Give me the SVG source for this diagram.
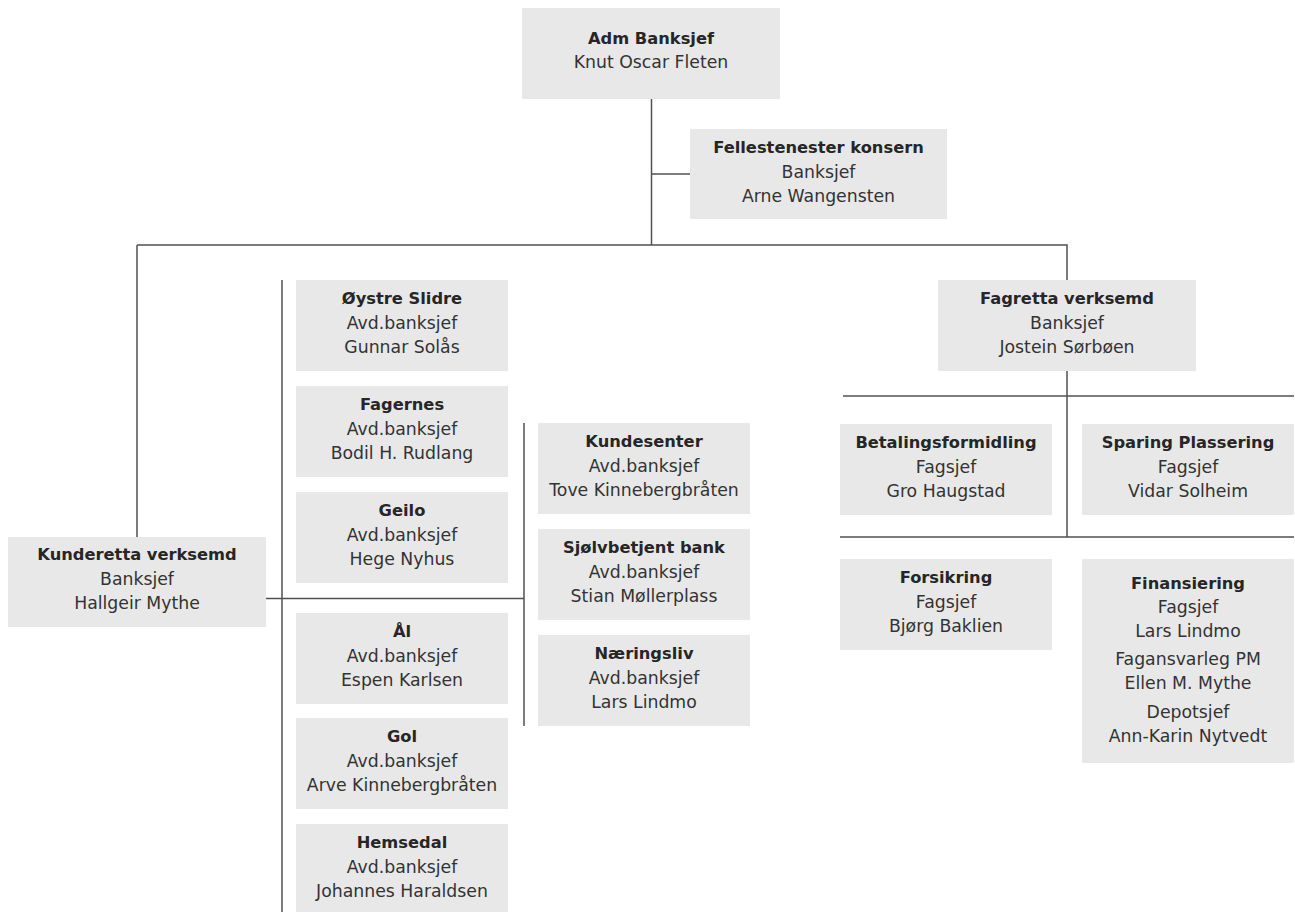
<svg xmlns="http://www.w3.org/2000/svg" width="1295" height="912" viewBox="0 0 1295 912">
<style>
.box{fill:#e8e8e8}
.t{font-family:"DejaVu Sans",sans-serif;text-anchor:middle}
.b{font-weight:bold;font-size:16.3px;fill:#262626}
.r{font-size:17.3px;fill:#333333}
.c{fill:none;stroke:#505050;stroke-width:1.5}
</style>
<rect width="1295" height="912" fill="#ffffff"/>
<g id="connectors" class="c">
<path d="M651.5 99V245"/>
<path d="M651.5 174H690"/>
<path d="M137 245H1067V280"/>
<path d="M137 245V537"/>
<path d="M1067 371V537"/>
<path d="M843 396H1294"/>
<path d="M840 537H1294"/>
<path d="M266 598.5H524"/>
<path d="M282 280V912"/>
<path d="M524 423V726"/>
</g>
<g id="adm"><rect class="box" x="522" y="8" width="258" height="91"/>
<text class="t b" x="651" y="44">Adm Banksjef</text><text class="t r" x="651" y="68">Knut Oscar Fleten</text></g>
<g id="fellestenester"><rect class="box" x="690" y="129" width="257" height="90"/>
<text class="t b" x="818.5" y="153">Fellestenester konsern</text><text class="t r" x="818.5" y="178">Banksjef</text><text class="t r" x="818.5" y="202">Arne Wangensten</text></g>
<g id="kunderetta"><rect class="box" x="8" y="537" width="258" height="90"/>
<text class="t b" x="137" y="560">Kunderetta verksemd</text><text class="t r" x="137" y="585">Banksjef</text><text class="t r" x="137" y="609">Hallgeir Mythe</text></g>
<g id="oystre"><rect class="box" x="296" y="280" width="212" height="91"/>
<text class="t b" x="402" y="304">Øystre Slidre</text><text class="t r" x="402" y="329">Avd.banksjef</text><text class="t r" x="402" y="353">Gunnar Solås</text></g>
<g id="fagernes"><rect class="box" x="296" y="386" width="212" height="91"/>
<text class="t b" x="402" y="410">Fagernes</text><text class="t r" x="402" y="435">Avd.banksjef</text><text class="t r" x="402" y="459">Bodil H. Rudlang</text></g>
<g id="geilo"><rect class="box" x="296" y="492" width="212" height="91"/>
<text class="t b" x="402" y="516">Geilo</text><text class="t r" x="402" y="541">Avd.banksjef</text><text class="t r" x="402" y="565">Hege Nyhus</text></g>
<g id="al"><rect class="box" x="296" y="613" width="212" height="91"/>
<text class="t b" x="402" y="637">Ål</text><text class="t r" x="402" y="662">Avd.banksjef</text><text class="t r" x="402" y="686">Espen Karlsen</text></g>
<g id="gol"><rect class="box" x="296" y="718" width="212" height="91"/>
<text class="t b" x="402" y="742">Gol</text><text class="t r" x="402" y="767">Avd.banksjef</text><text class="t r" x="402" y="791">Arve Kinnebergbråten</text></g>
<g id="hemsedal"><rect class="box" x="296" y="824" width="212" height="91"/>
<text class="t b" x="402" y="848">Hemsedal</text><text class="t r" x="402" y="873">Avd.banksjef</text><text class="t r" x="402" y="897">Johannes Haraldsen</text></g>
<g id="kundesenter"><rect class="box" x="538" y="423" width="212" height="91"/>
<text class="t b" x="644" y="447">Kundesenter</text><text class="t r" x="644" y="472">Avd.banksjef</text><text class="t r" x="644" y="496">Tove Kinnebergbråten</text></g>
<g id="sjolvbetjent"><rect class="box" x="538" y="529" width="212" height="91"/>
<text class="t b" x="644" y="553">Sjølvbetjent bank</text><text class="t r" x="644" y="578">Avd.banksjef</text><text class="t r" x="644" y="602">Stian Møllerplass</text></g>
<g id="naeringsliv"><rect class="box" x="538" y="635" width="212" height="91"/>
<text class="t b" x="644" y="659">Næringsliv</text><text class="t r" x="644" y="684">Avd.banksjef</text><text class="t r" x="644" y="708">Lars Lindmo</text></g>
<g id="fagretta"><rect class="box" x="938" y="280" width="258" height="91"/>
<text class="t b" x="1067" y="304">Fagretta verksemd</text><text class="t r" x="1067" y="329">Banksjef</text><text class="t r" x="1067" y="353">Jostein Sørbøen</text></g>
<g id="betaling"><rect class="box" x="840" y="424" width="212" height="91"/>
<text class="t b" x="946" y="448">Betalingsformidling</text><text class="t r" x="946" y="473">Fagsjef</text><text class="t r" x="946" y="497">Gro Haugstad</text></g>
<g id="sparing"><rect class="box" x="1082" y="424" width="212" height="91"/>
<text class="t b" x="1188" y="448">Sparing Plassering</text><text class="t r" x="1188" y="473">Fagsjef</text><text class="t r" x="1188" y="497">Vidar Solheim</text></g>
<g id="forsikring"><rect class="box" x="840" y="559" width="212" height="91"/>
<text class="t b" x="946" y="583">Forsikring</text><text class="t r" x="946" y="608">Fagsjef</text><text class="t r" x="946" y="632">Bjørg Baklien</text></g>
<g id="finansiering"><rect class="box" x="1082" y="559" width="212" height="204"/>
<text class="t b" x="1188" y="589">Finansiering</text><text class="t r" x="1188" y="613">Fagsjef</text><text class="t r" x="1188" y="637">Lars Lindmo</text><text class="t r" x="1188" y="665">Fagansvarleg PM</text><text class="t r" x="1188" y="689">Ellen M. Mythe</text><text class="t r" x="1188" y="718">Depotsjef</text><text class="t r" x="1188" y="742">Ann-Karin Nytvedt</text></g>
</svg>
